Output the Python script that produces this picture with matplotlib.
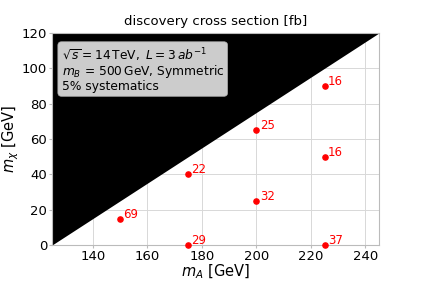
import matplotlib
matplotlib.use("Agg")
import matplotlib.pyplot as plt
import numpy as np

mA = [150, 175, 175, 200, 200, 225, 225, 225]
mchi = [15, 40, 0, 65, 25, 90, 50, 0]
xsec = [69, 22, 29, 25, 32, 16, 16, 37]

xedge = [125, 245]
yedge = [0, 120]

fig = plt.figure(figsize=(4.21, 2.81), dpi=100)
ax = fig.add_axes([0.1235, 0.128, 0.777, 0.755])
ax.set_xlim(125, 245)
ax.set_ylim(0, 120)
ax.grid(True, color="#d8d8d8", lw=0.7)
ax.set_axisbelow(True)
for s in ax.spines.values():
    s.set_color("#bbbbbb")
ax.tick_params(colors="#bbbbbb", labelcolor="black", labelsize=9.5, length=2, pad=1.5)
ax.set_xticks([140, 160, 180, 200, 220, 240])
ax.set_yticks([0, 20, 40, 60, 80, 100, 120])

ax.fill_between(xedge, yedge, [120, 120], color="black", lw=0, zorder=2)

ax.scatter(mA, mchi, color="red", s=14, zorder=4, clip_on=False)
for x, y, v in zip(mA, mchi, xsec):
    ax.text(x + 1.2, y + 0.5, str(v), color="red", fontsize=8.5, zorder=5)

ax.text(128.5, 112.5, "$\\sqrt{s} = 14\\,\\mathrm{TeV},\\ L = 3\\,ab^{-1}$\n$m_B$ = 500$\\,$GeV, Symmetric\n5% systematics",
        fontsize=8.8, va="top", ha="left", zorder=6, linespacing=0.95,
        bbox=dict(boxstyle="round,pad=0.3", fc="#cccccc", ec="#aaaaaa", lw=0.5))

ax.set_title("discovery cross section [fb]", fontsize=9.5, pad=6)
ax.set_xlabel("$m_A$ [GeV]", fontsize=10.5, labelpad=0)
ax.set_ylabel("$m_\\chi$ [GeV]", fontsize=10.5)
ax.yaxis.set_label_coords(-0.095, 0.5)

fig.savefig("out.png", dpi=100)
